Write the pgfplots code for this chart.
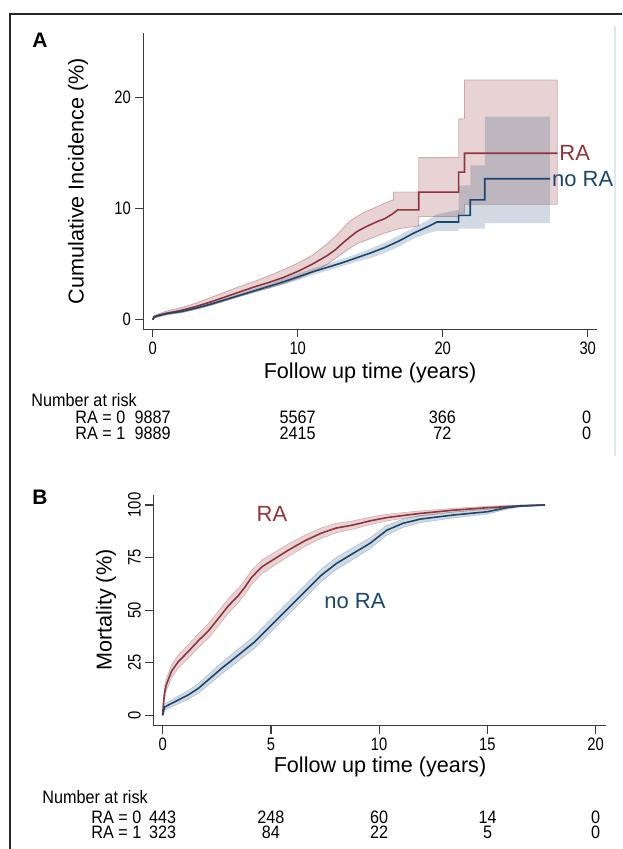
\documentclass[border=0pt]{standalone}
\usepackage{pgfplots}
\pgfplotsset{compat=1.18}
\usepackage{fontspec}
\setmainfont{Liberation Sans}
\newfontfamily\narrowA[FakeStretch=0.82]{Liberation Sans}
\newfontfamily\narrowB[FakeStretch=0.9]{Liberation Sans}
\definecolor{maroonS}{RGB}{144,53,59}
\definecolor{navyS}{RGB}{26,71,111}
\definecolor{axisgray}{RGB}{60,60,60}
\definecolor{faint}{RGB}{222,230,238}
\newcommand{\tickfont}{\narrowA\fontsize{9}{10}\selectfont}
\newcommand{\riskfont}{\narrowB\fontsize{9}{10}\selectfont}
\newcommand{\titlefont}{\fontsize{10.8}{12}\selectfont}
\newcommand{\curvefont}{\fontsize{11}{12}\selectfont}
\pgfplotsset{stataaxis/.style={
  scale only axis, axis lines=left,
  axis line style={-, axisgray, line width=0.7pt},
  tick align=outside, major tick length=4pt,
  tick style={axisgray, line width=0.6pt},
  ticklabel style={font=\tickfont, text=black, inner sep=2pt},
  /pgf/number format/assume math mode=true,
  clip=false, minor tick num=0,
}}
\begin{document}
\begin{tikzpicture}
\useasboundingbox (0,0) rectangle (311pt,-424.5pt);
\draw[line width=0.8pt, black!85] (5pt,-424.5pt) -- (5pt,-7pt) -- (311pt,-7pt);
\draw[line width=0.6pt, faint] (307.5pt,-13pt) -- (307.5pt,-228pt);

% ---------------- Panel A ----------------
\begin{axis}[stataaxis, at={(71.65pt,-164.65pt)}, anchor=south west,
  width=226.7pt, height=148.15pt,
  xmin=-0.65, xmax=30.62, ymin=-0.865, ymax=25.83,
  xtick={0,10,20,30}, ytick={0,10,20}]
% RA band
\addplot[fill=maroonS, fill opacity=0.22, draw=maroonS, draw opacity=0.35, line width=0.4pt] coordinates {
(0,0) (0.1,0.4) (1,0.8) (2,1.1) (3,1.5) (4,2.0) (5,2.5) (6,3.0) (7,3.45) (8,3.95) (9,4.5) (10,5.1) (11,5.8) (12,6.8) (12.6,7.5) (13.1,8.2) (13.6,8.9) (14.1,9.3) (14.6,9.7) (15.0,9.9) (15.5,10.2) (16.0,10.5) (16.6,10.8) (16.6,11.5) (18.35,11.5) (18.35,14.6) (21.1,14.6) (21.1,18.1) (21.5,18.1) (21.5,21.6) (27.9,21.6)
(27.9,10.4) (21.5,10.4) (21.5,9.6) (21.1,9.6) (21.1,9.3) (18.35,9.3) (18.35,8.45) (17,8.2) (16,7.8) (15,7.3) (14,6.8) (13,5.9) (12,4.95) (11,4.25) (10,3.7) (9,3.25) (8,2.85) (7,2.5) (6,2.1) (5,1.7) (4,1.3) (3,0.95) (2,0.65) (1,0.45) (0.1,0.15) (0,0)};
% no RA band
\addplot[fill=navyS, fill opacity=0.2, draw=none] coordinates {
(0,0) (0.1,0.35) (1,0.65) (2,0.9) (3,1.2) (4,1.55) (5,1.95) (6,2.35) (7,2.8) (8,3.2) (9,3.7) (10,4.15) (11,4.6) (12,5.0) (13,5.45) (14,5.9) (15,6.4) (16,6.95) (17,7.6) (18,8.3) (19,9.0) (19.6,9.5) (21.1,9.9) (21.1,12.1) (21.9,12.1) (21.9,13.9) (22.9,13.9) (22.9,18.3) (27.4,18.3)
(27.4,8.7) (22.9,8.7) (22.9,8.2) (21.1,8.2) (21.1,8.0) (19.6,8.0) (19,7.8) (18,7.3) (17,6.6) (16,6.0) (15,5.55) (14,5.2) (13,4.8) (12,4.4) (11,4.0) (10,3.55) (9,3.15) (8,2.8) (7,2.4) (6,2.05) (5,1.65) (4,1.25) (3,0.9) (2,0.6) (1,0.45) (0.1,0.15) (0,0)};
% RA line
\addplot[maroonS, line width=0.8pt] coordinates {
(0,0) (0.1,0.25) (0.5,0.45) (1,0.6) (2,0.85) (3,1.2) (4,1.6) (5,2.05) (6,2.5) (7,2.95) (8,3.35) (9,3.8) (10,4.35) (11,5.0) (12,5.75) (12.6,6.3) (13.1,6.9) (13.6,7.45) (14.1,7.95) (14.6,8.3) (15.0,8.55) (15.5,8.85) (16.0,9.1) (16.5,9.5) (16.9,9.9) (18.35,9.9) (18.35,11.5) (21.1,11.5) (21.1,13.3) (21.5,13.3) (21.5,15.0) (27.9,15.0)};
% no RA line
\addplot[navyS, line width=0.8pt] coordinates {
(0,0) (0.1,0.25) (0.5,0.4) (1,0.55) (2,0.75) (3,1.05) (4,1.4) (5,1.8) (6,2.2) (7,2.6) (8,3.0) (9,3.4) (10,3.85) (11,4.3) (12,4.7) (13,5.1) (14,5.55) (15,6.0) (16,6.5) (17,7.1) (18,7.8) (19,8.4) (19.6,8.8) (21.1,8.8) (21.1,9.4) (21.9,9.4) (21.9,10.8) (22.9,10.8) (22.9,12.7) (27.4,12.7)};
\node[anchor=west, text=maroonS, font=\curvefont, inner sep=0.5pt] at (axis cs:27.95,15.0) {RA};
\node[anchor=west, text=navyS, font=\curvefont, inner sep=0.5pt] at (axis cs:27.45,12.7) {no RA};
\end{axis}

\node[font=\bfseries\fontsize{10.5}{12}\selectfont] at (20pt,-20pt) {A};
\node[rotate=90, font=\titlefont] at (39pt,-90.5pt) {Cumulative Incidence (\%)};
\node[font=\titlefont] at (185pt,-186.5pt) {Follow up time (years)};
\node[anchor=west, font=\riskfont, inner sep=0pt] at (15.5pt,-200pt) {Number at risk};
\node[anchor=west, font=\riskfont, inner sep=0pt] at (37.5pt,-208.5pt) {RA = 0};
\node[anchor=west, font=\riskfont, inner sep=0pt] at (37.5pt,-216.5pt) {RA = 1};
\foreach \xx/\a/\b in {76.35/9887/9889, 148.85/5567/2415, 221.15/366/72, 293.35/0/0} {
  \node[font=\riskfont, inner sep=0pt] at (\xx pt,-208.5pt) {\a};
  \node[font=\riskfont, inner sep=0pt] at (\xx pt,-216.5pt) {\b};
}

% ---------------- Panel B ----------------
\begin{axis}[stataaxis, at={(76.65pt,-362.85pt)}, anchor=south west,
  width=226.35pt, height=115.35pt,
  xmin=-0.434, xmax=20.48, ymin=-4.95, ymax=104.75,
  xtick={0,5,10,15,20}, ytick={0,25,50,75,100},
  yticklabel style={rotate=90, anchor=south}]
\addplot[fill=maroonS, fill opacity=0.22, draw=maroonS, draw opacity=0.3, line width=0.3pt] coordinates {
(0,0) (0.03,6.5) (0.08,12.5) (0.15,16.8) (0.26,20) (0.41,24.1) (0.72,28.7) (1.18,33.6) (1.65,38.9) (2.1,43.5) (2.57,49.5) (3.03,55.5) (3.5,60.5) (3.8,64.4) (4.1,68.9) (4.57,73.8) (5.03,76.7) (5.8,81.5) (6.57,85.7) (7.3,89) (8.0,91.3) (8.8,92.5) (9.6,94.3) (10.35,95.6) (11.1,96.4) (11.9,97.2) (13.4,98.4) (15.0,99.4) (16.5,100) (17.66,100.1)
(17.66,99.9) (16.5,99.2) (15.0,98.0) (13.4,96.6) (11.9,94.8) (11.1,93.6) (10.35,92.4) (9.6,90.7) (8.8,88.5) (8.0,86.7) (7.3,84) (6.57,80.3) (5.8,75.5) (5.03,70.3) (4.57,67.2) (4.1,62.1) (3.8,57.6) (3.5,53.5) (3.03,48.5) (2.57,42.5) (2.1,36.5) (1.65,32.1) (1.18,27) (0.72,22.3) (0.41,17.9) (0.26,14) (0.15,11.2) (0.08,7.5) (0.03,3.5) (0,0)};
\addplot[fill=navyS, fill opacity=0.2, draw=navyS, draw opacity=0.25, line width=0.3pt] coordinates {
(0,0) (0.05,3.7) (0.1,5.5) (0.57,8.3) (1.18,11.8) (1.65,15.1) (2.1,19.3) (2.72,25) (3.5,31.6) (4.26,38) (5.03,46.1) (5.8,54) (6.57,61.9) (7.34,69.7) (8.04,75.2) (8.8,79.8) (9.58,84.4) (10.35,90.3) (11.1,93.3) (11.9,95) (13.4,96.6) (15.0,97.9) (15.9,99.4) (16.5,99.9) (17.66,100.1)
(17.66,99.9) (16.5,99.1) (15.9,98) (15.0,95.7) (13.4,93.8) (11.9,91.6) (11.1,89.3) (10.35,85.7) (9.58,79.2) (8.8,74.2) (8.04,69.4) (7.34,63.7) (6.57,55.7) (5.8,47.8) (5.03,39.9) (4.26,32) (3.5,25.8) (2.72,19.6) (2.1,14.3) (1.65,10.5) (1.18,7.6) (0.57,4.7) (0.1,2.5) (0.05,1.3) (0,0)};
\addplot[maroonS, line width=0.8pt] coordinates {
(0,0) (0.03,5) (0.08,10) (0.15,14) (0.26,17) (0.41,21) (0.72,25.5) (1.18,30.3) (1.65,35.5) (2.1,40) (2.57,46) (3.03,52) (3.5,57) (3.8,61) (4.1,65.5) (4.57,70.5) (5.03,73.5) (5.8,78.5) (6.57,83) (7.3,86.5) (8.0,89) (8.8,90.5) (9.6,92.5) (10.35,94) (11.1,95) (11.9,96) (13.4,97.5) (15.0,98.7) (16.5,99.6) (17.66,100)};
\addplot[navyS, line width=0.8pt] coordinates {
(0,0) (0.05,2.5) (0.1,4) (0.57,6.5) (1.18,9.7) (1.65,12.8) (2.1,16.8) (2.72,22.3) (3.5,28.7) (4.26,35) (5.03,43) (5.8,50.9) (6.57,58.8) (7.34,66.7) (8.04,72.3) (8.8,77) (9.58,81.8) (10.35,88) (11.1,91.3) (11.9,93.3) (13.4,95.2) (15.0,96.8) (15.9,98.7) (16.5,99.5) (17.66,100)};
\node[text=maroonS, font=\curvefont] at (axis cs:5.05,95.7) {RA};
\node[text=navyS, font=\curvefont] at (axis cs:8.88,54.3) {no RA};
\end{axis}

\node[font=\bfseries\fontsize{10.5}{12}\selectfont] at (20pt,-248.5pt) {B};
\node[rotate=90, font=\titlefont] at (53pt,-305pt) {Mortality (\%)};
\node[font=\titlefont] at (190pt,-383.5pt) {Follow up time (years)};
\node[anchor=west, font=\riskfont, inner sep=0pt] at (21pt,-398.5pt) {Number at risk};
\node[anchor=west, font=\riskfont, inner sep=0pt] at (45.5pt,-408.5pt) {RA = 0};
\node[anchor=west, font=\riskfont, inner sep=0pt] at (45.5pt,-416pt) {RA = 1};
\foreach \xx/\a/\b in {81.35/443/323, 135.45/248/84, 189.6/60/22, 243.75/14/5, 297.85/0/0} {
  \node[font=\riskfont, inner sep=0pt] at (\xx pt,-408.5pt) {\a};
  \node[font=\riskfont, inner sep=0pt] at (\xx pt,-416pt) {\b};
}
\end{tikzpicture}
\end{document}
